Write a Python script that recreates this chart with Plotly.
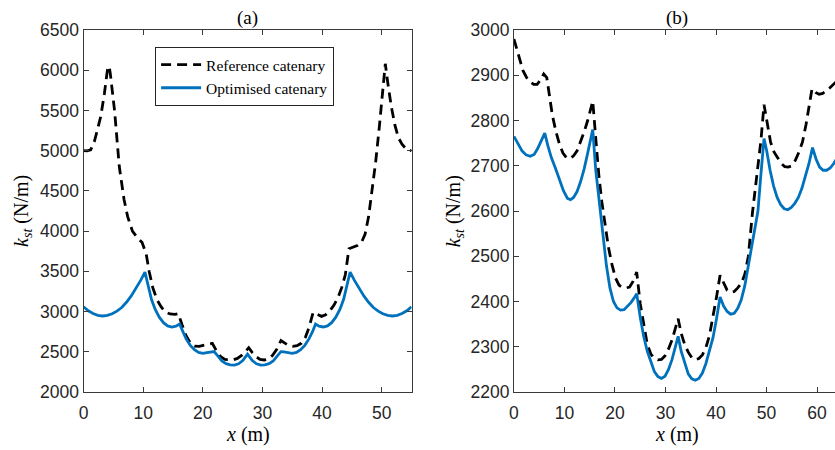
import plotly.graph_objects as go

# ---------------- data: panel (a) ----------------
a_ref_x = [0.0, 0.6, 1.2, 1.8, 2.4, 2.9, 3.5, 4.0, 4.3, 4.5, 5.2, 6.0, 6.8, 7.4, 8.2, 9.0, 9.8,
           10.5, 11.0, 11.6, 12.3, 13.0, 13.7, 14.5, 15.3, 15.9, 16.5, 17.2, 17.9, 18.6, 19.4,
           20.2, 21.0, 21.6, 22.3, 23.0, 23.7, 24.4, 25.1, 25.8, 26.5, 27.1, 27.7, 28.3, 28.9,
           29.6, 30.3, 31.0, 31.7, 32.4, 33.1, 33.7, 34.4, 35.1, 35.8, 36.5, 37.2, 37.8, 38.5,
           39.2, 39.9, 40.6, 41.3, 42.0, 42.7, 43.3, 43.9, 44.5, 45.2, 45.9, 46.6, 47.2, 47.8,
           48.4, 49.0, 49.6, 50.2, 50.6, 51.0, 51.6, 52.2, 52.8, 53.4, 54.0, 54.6, 55.0]
a_ref_y = [5000, 4998, 5010, 5110, 5280, 5430, 5710, 6000, 6050, 5950, 5500, 4800, 4390, 4180,
           4000, 3920, 3860, 3720, 3500, 3300, 3150, 3060, 2995, 2970, 2965, 2975, 2840, 2700,
           2610, 2570, 2568, 2578, 2595, 2605, 2510, 2440, 2405, 2398, 2400, 2418, 2455, 2500,
           2550, 2490, 2440, 2405, 2398, 2410, 2455, 2530, 2640, 2610, 2578, 2568, 2575, 2605,
           2680, 2800, 2990, 2965, 2940, 2960, 3010, 3080, 3180, 3300, 3460, 3780, 3800, 3820,
           3860, 3960, 4180, 4500, 4870, 5300, 5750, 6080, 5850, 5550, 5320, 5160, 5080, 5030,
           5005, 5000]

a_opt_x = [0.0, 0.8, 1.6, 2.4, 3.2, 4.0, 4.8, 5.6, 6.4, 7.2, 8.0, 8.8, 9.6, 10.3, 10.8, 11.4,
           12.0, 12.7, 13.4, 14.1, 14.8, 15.5, 16.1, 16.6, 17.2, 17.9, 18.6, 19.3, 20.0, 20.7,
           21.4, 21.9, 22.5, 23.2, 23.9, 24.6, 25.3, 26.0, 26.7, 27.5, 28.3, 29.0, 29.7, 30.4,
           31.1, 31.8, 32.5, 33.1, 33.6, 34.3, 35.0, 35.7, 36.4, 37.1, 37.8, 38.4, 38.9, 39.5,
           40.2, 40.9, 41.6, 42.3, 43.0, 43.6, 44.2, 44.7, 45.4, 46.2, 47.0, 47.8, 48.6, 49.4,
           50.2, 51.0, 51.8, 52.6, 53.4, 54.2, 55.0]
a_opt_y = [3060, 3010, 2975, 2953, 2945, 2952, 2972, 3005, 3050, 3115, 3195, 3290, 3390, 3490,
           3330, 3150, 3030, 2930, 2862, 2822, 2808, 2818, 2845, 2750, 2660, 2580, 2525, 2492,
           2480, 2488, 2498, 2502, 2450, 2385, 2352, 2338, 2335, 2350, 2390, 2470, 2390, 2350,
           2335, 2338, 2352, 2385, 2450, 2502, 2498, 2488, 2480, 2492, 2525, 2580, 2660, 2750,
           2845, 2818, 2808, 2822, 2862, 2930, 3030, 3150, 3330, 3490, 3390, 3290, 3195, 3115,
           3050, 3005, 2972, 2952, 2945, 2953, 2975, 3010, 3060]

# ---------------- data: panel (b) ----------------
b_ref_x = [0.0, 0.6, 1.2, 1.8, 2.5, 3.2, 3.9, 4.6, 5.3, 5.9, 6.5, 7.0, 7.6, 8.3, 9.0, 9.7, 10.4,
           11.1, 11.8, 12.5, 13.2, 13.9, 14.6, 15.2, 15.6, 16.2, 16.8, 17.4, 18.0, 18.7, 19.4,
           20.1, 20.8, 21.5, 22.2, 22.9, 23.6, 24.3, 25.0, 25.7, 26.4, 27.1, 27.8, 28.5, 29.2,
           29.9, 30.6, 31.3, 31.9, 32.5, 33.1, 33.8, 34.5, 35.2, 35.9, 36.6, 37.3, 38.0, 38.7,
           39.4, 40.1, 40.8, 41.5, 42.2, 42.9, 43.6, 44.3, 45.0, 45.7, 46.4, 47.2, 47.8, 48.4,
           48.9, 49.5, 50.2, 50.8, 51.5, 52.2, 52.9, 53.6, 54.3, 55.0, 55.7, 56.4, 57.1, 57.8,
           58.4, 59.0, 59.7, 60.4, 61.1, 61.8, 62.5, 63.2, 64.0]
b_ref_y = [2980, 2955, 2930, 2910, 2895, 2885, 2880, 2880, 2890, 2903, 2895, 2855, 2812, 2776,
           2748, 2728, 2718, 2716, 2722, 2733, 2752, 2775, 2800, 2825, 2843, 2760, 2680, 2620,
           2570, 2520, 2482, 2452, 2436, 2431, 2430, 2432, 2445, 2465, 2395, 2345, 2305, 2284,
           2274, 2271, 2272, 2280, 2295, 2315, 2338, 2362, 2330, 2305, 2288, 2276, 2271, 2274,
           2282, 2298, 2325, 2365, 2410, 2458, 2440, 2425, 2420, 2422, 2430, 2440, 2460, 2500,
           2595, 2650, 2705, 2757, 2835, 2785, 2752, 2730, 2716, 2705, 2698, 2697, 2700, 2712,
           2730, 2752, 2790, 2830, 2870, 2862, 2858, 2860, 2865, 2872, 2880, 2888]

b_opt_x = [0.0, 0.8, 1.6, 2.4, 3.2, 4.0, 4.7, 5.4, 6.1, 6.7, 7.4, 8.2, 9.0, 9.8, 10.6, 11.2,
           11.8, 12.5, 13.2, 13.9, 14.6, 15.2, 15.6, 16.2, 16.9, 17.6, 18.3, 19.0, 19.7, 20.4,
           21.1, 21.8, 22.5, 23.2, 23.8, 24.3, 25.0, 25.7, 26.4, 27.1, 27.8, 28.5, 29.2, 29.9,
           30.6, 31.3, 31.9, 32.5, 33.1, 33.8, 34.5, 35.2, 35.9, 36.6, 37.3, 38.0, 38.7, 39.4,
           40.1, 40.8, 41.5, 42.2, 42.9, 43.6, 44.3, 45.0, 45.7, 46.4, 47.1, 47.8, 48.3, 48.8,
           49.5, 50.0, 50.7, 51.4, 52.1, 52.8, 53.5, 54.2, 54.9, 55.6, 56.3, 57.0, 57.7, 58.4,
           59.1, 59.8, 60.5, 61.2, 61.9, 62.6, 63.3, 64.0]
b_opt_y = [2765, 2748, 2733, 2724, 2721, 2725, 2738, 2755, 2772, 2745, 2718, 2695, 2668, 2645,
           2628, 2625, 2630, 2643, 2665, 2693, 2728, 2760, 2780, 2690, 2620, 2545, 2480, 2430,
           2400, 2386, 2381, 2382, 2390, 2398, 2408, 2417, 2365, 2322, 2290, 2265, 2245, 2234,
           2230, 2235, 2250, 2272, 2298, 2323, 2290, 2262, 2240, 2229, 2226, 2230, 2242, 2263,
           2290, 2320, 2362, 2410, 2390, 2378, 2372, 2374, 2385, 2404, 2435, 2478, 2530, 2570,
           2600, 2670, 2760, 2735, 2690, 2655, 2630, 2614, 2605, 2603, 2608, 2617, 2630, 2650,
           2675, 2705, 2740, 2715, 2697, 2690, 2690, 2695, 2705, 2718]

series_names = ["Reference catenary", "Optimised catenary"]
panel_titles = ["(a)", "(b)"]
x_title = "<i>x</i> (m)"
y_title = "<i>k</i><sub><i>st</i></sub> (N/m)"

# ---------------- styling ----------------
W, H = 835, 450
ML, MR, MT, MB = 0, 0, 30, 58
PH = H - MT - MB
REF_COLOR = "#000000"
OPT_COLOR = "#0072BD"
AX_COLOR = "#3a3a3a"
TICK_FONT = dict(family="Liberation Sans", size=17.5, color="#262626")
SERIF = "Liberation Serif"

def px_x(p):
    return p / W

def px_y(p):
    return (H - MB - p) / PH

fig = go.Figure()

ref_line = dict(color=REF_COLOR, width=2.8, dash="10px,6px")
opt_line = dict(color=OPT_COLOR, width=2.8)

fig.add_trace(go.Scatter(x=a_ref_x, y=a_ref_y, mode="lines", line=ref_line,
                         name=series_names[0], xaxis="x", yaxis="y"))
fig.add_trace(go.Scatter(x=a_opt_x, y=a_opt_y, mode="lines", line=opt_line,
                         name=series_names[1], xaxis="x", yaxis="y"))
fig.add_trace(go.Scatter(x=b_ref_x, y=b_ref_y, mode="lines", line=ref_line,
                         name=series_names[0], xaxis="x2", yaxis="y2", showlegend=False))
fig.add_trace(go.Scatter(x=b_opt_x, y=b_opt_y, mode="lines", line=opt_line,
                         name=series_names[1], xaxis="x2", yaxis="y2", showlegend=False))

common_ax = dict(showgrid=False, zeroline=False, showline=True, linecolor=AX_COLOR,
                 linewidth=1, ticks="inside", ticklen=5, tickwidth=1, tickcolor=AX_COLOR,
                 tickfont=TICK_FONT)

fig.update_layout(
    width=W, height=H,
    margin=dict(l=ML, r=MR, t=MT, b=MB),
    paper_bgcolor="white", plot_bgcolor="white",
    xaxis=dict(domain=[px_x(79), px_x(409)], range=[0, 55], dtick=10, tick0=0,
               mirror="ticks", anchor="y", ticklabelstandoff=5, **common_ax),
    yaxis=dict(domain=[0, 1], range=[2000, 6500], dtick=500, tick0=2000,
               mirror="ticks", anchor="x", **common_ax),
    xaxis2=dict(domain=[px_x(512), 1.0], range=[0, 63.55], dtick=10, tick0=0,
                mirror="ticks", anchor="y2", ticklabelstandoff=5, **common_ax),
    yaxis2=dict(domain=[0, 1], range=[2200, 3000], dtick=100, tick0=2200,
                mirror=False, anchor="x2", **common_ax),
    showlegend=True,
    legend=dict(x=px_x(151), y=px_y(47), xanchor="left", yanchor="top",
                bgcolor="white", bordercolor="#262626", borderwidth=1,
                font=dict(family=SERIF, size=15.5, color="#000000"),
                itemwidth=40, tracegroupgap=0),
)

ann = []
for cx, t in zip([244, 676], panel_titles):
    ann.append(dict(text=t, x=px_x(cx), y=px_y(18.5), xref="paper", yref="paper",
                    showarrow=False, xanchor="center", yanchor="middle",
                    font=dict(family=SERIF, size=19, color="#000000")))
    ann.append(dict(text=x_title, x=px_x(cx), y=px_y(434), xref="paper", yref="paper",
                    showarrow=False, xanchor="center", yanchor="middle",
                    font=dict(family=SERIF, size=20, color="#000000")))
for cx in [17, 452]:
    ann.append(dict(text=y_title, x=px_x(cx), y=px_y(211), xref="paper", yref="paper",
                    showarrow=False, xanchor="center", yanchor="middle", textangle=-90,
                    font=dict(family=SERIF, size=20, color="#000000")))
fig.update_layout(annotations=ann)

fig.write_html("out.html")
